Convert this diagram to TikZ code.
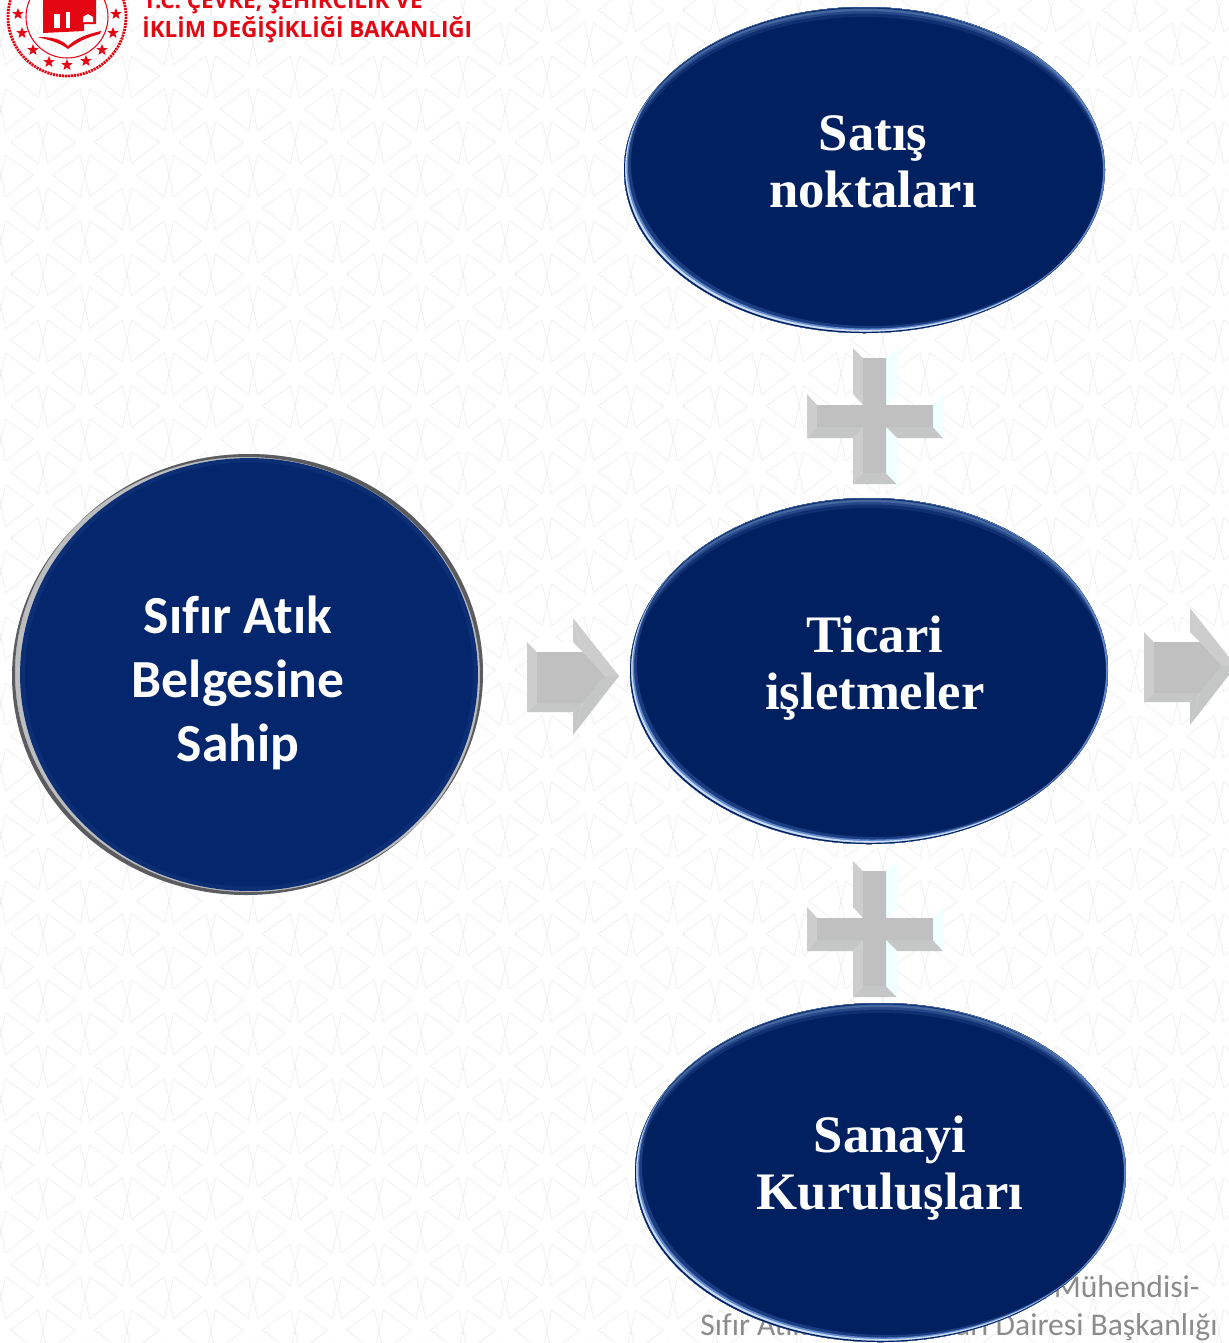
\documentclass[tikz,border=0pt]{standalone}
\usepackage{xcolor}
\usepackage{fontspec}
\setmainfont{Liberation Serif}
\setsansfont{Carlito}[Ligatures=NoCommon]
\newfontfamily\logofont{Open Sans}
\usetikzlibrary{shapes,arrows,positioning,fit,calc}

\definecolor{navy}{HTML}{002060}
\definecolor{navyb}{HTML}{04266C}
\definecolor{navyrim}{HTML}{0C2E74}
\definecolor{rima}{HTML}{0F2F70}
\definecolor{rimb}{HTML}{264888}
\definecolor{rimc}{HTML}{45679F}
\definecolor{rimd}{HTML}{1A3C80}
\definecolor{rime}{HTML}{5F86C8}
\definecolor{rimf}{HTML}{C8DCF4}
\definecolor{silver}{HTML}{BDBEC0}
\definecolor{silverdark}{HTML}{5A5C60}
\definecolor{logored}{HTML}{E30613}
\definecolor{footgray}{HTML}{8C8C8C}
\definecolor{tilegray}{HTML}{EDEDED}
\definecolor{facegray}{HTML}{C0C0C0}
\definecolor{sidegray}{HTML}{CDCDCD}
\definecolor{lowgray}{HTML}{C5C7C7}
\definecolor{sidelight}{HTML}{F0FFFF}

\tikzset{
    blob/.style={ellipse, fill=navy, inner sep=0pt},
    bigtext/.style={text=white, font=\fontsize{30}{32.5}\selectfont\bfseries, align=center},
    sanstext/.style={text=white, font=\sffamily\fontsize{30.5}{36.4}\selectfont\bfseries, align=center},
    foottext/.style={text=footgray, font=\sffamily\fontsize{18}{21}\selectfont, inner sep=0pt},
    headtext/.style={text=logored, font=\logofont\fontsize{12.8}{16}\selectfont\bfseries, anchor=base west, inner sep=0pt},
    logostar/.style={star, star points=5, star point ratio=2.4, fill=logored, inner sep=0pt, minimum size=0.24cm},
    tile/.style={draw=tilegray, line width=0.35pt},
    blockarrow/.pic={
        \fill[white] (0,0) -- (46,0) -- (46,-24) -- (92,34) -- (46,93) -- (46,70) -- (0,70) -- cycle;
        \fill[sidegray] (0,0) -- (10,10) -- (10,61) -- (0,70) -- cycle;
        \fill[lowgray] (0,70) -- (10,61) -- (56,61) -- (46,70) -- cycle;
        \fill[sidegray] (46,-24) -- (56,10) -- (78,34) -- (92,34) -- cycle;
        \fill[sidegray] (46,-24) -- (46,0) -- (56,10) -- cycle;
        \fill[lowgray] (78,34) -- (92,34) -- (46,93) -- (56,61) -- cycle;
        \fill[lowgray] (46,70) -- (46,93) -- (56,61) -- cycle;
        \fill[facegray] (10,10) -- (56,10) -- (78,34) -- (56,61) -- (10,61) -- cycle;
    },
    blockplus/.pic={
        \fill[sidegray] (-22,-68) -- (-12,-58) -- (-12,-11) -- (-22,-22) -- cycle;
        \fill[sidegray] (-68,-22) -- (-58,-11) -- (-58,11) -- (-68,22) -- cycle;
        \fill[sidegray] (-22,22) -- (-12,11) -- (-12,57) -- (-22,68) -- cycle;
        \fill[lowgray] (-68,22) -- (-58,11) -- (-12,11) -- (-22,22) -- cycle;
        \fill[lowgray] (11,11) -- (58,11) -- (68,22) -- (22,22) -- cycle;
        \fill[lowgray] (-22,68) -- (-12,57) -- (11,57) -- (22,68) -- cycle;
        \fill[sidelight] (11,-58) -- (22,-68) -- (22,-22) -- (11,-11) -- cycle;
        \fill[sidelight] (58,-11) -- (68,-22) -- (68,22) -- (58,11) -- cycle;
        \fill[sidelight] (11,11) -- (22,22) -- (22,68) -- (11,57) -- cycle;
        \fill[facegray] (-12,-58) -- (11,-58) -- (11,-11) -- (58,-11) -- (58,11) -- (11,11) -- (11,57)
            -- (-12,57) -- (-12,11) -- (-58,11) -- (-58,-11) -- (-12,-11) -- cycle;
    },
}

% one crescent of the rim: colour, cx, cy, rx, ry, dx, dy
\newcommand{\rimpart}[7]{
    \fill[color=#1, even odd rule] (#2,#3) ellipse [x radius=#4, y radius=#5] (#2+#6,#3+#7) ellipse [x radius=#4, y radius=#5];
}
% rim of an oval: cx, cy, rx, ry
\newcommand{\bevelrim}[4]{
    \begin{scope}
        \clip (#1,#2) ellipse [x radius=#3, y radius=#4];
        \rimpart{rima}{#1}{#2}{#3}{#4}{0}{10}
        \rimpart{rimb}{#1}{#2}{#3}{#4}{0}{6.5}
        \rimpart{rimc}{#1}{#2}{#3}{#4}{0}{4}
        \rimpart{rima}{#1}{#2}{#3}{#4}{0}{1.5}
        \rimpart{rimd}{#1}{#2}{#3}{#4}{7}{-7}
        \rimpart{rime}{#1}{#2}{#3}{#4}{4}{-4.5}
        \rimpart{rimf}{#1}{#2}{#3}{#4}{2.5}{-3}
        \rimpart{rime}{#1}{#2}{#3}{#4}{-2}{0}
        \rimpart{navy}{#1}{#2}{#3}{#4}{1}{-1.2}
    \end{scope}
}

\begin{document}
\begin{tikzpicture}[x=0.02cm, y=-0.02cm]
    \clip (0,0) rectangle (1229,1343);
    \fill[white] (0,0) rectangle (1229,1343);

    % background tiles
    \foreach \row in {-1,...,41}{
        \pgfmathsetmacro{\shift}{mod(\row+10,2)*42}
        \foreach \col in {-1,...,15}{
            \begin{scope}[shift={(\col*84+\shift+43,\row*33+10)}]
                \draw[tile] (-32.3,0) -- (-4.7,-20) -- (0,0) -- (-4.7,21.7) -- cycle;
                \draw[tile] (32.3,0) -- (4.7,-20) -- (0,0) -- (4.7,21.7) -- cycle;
            \end{scope}
        }
    }

    % logo
    \draw[logored, line width=1.6pt, dash pattern=on 1.2pt off 0.5pt] (67,17) circle [radius=59];
    \draw[logored, line width=0.6pt] (67,17) circle [radius=41];
    \foreach \i/\sx/\sy in {a/18/14,b/22/33,c/33/50,d/49/62,e/67/65,f/86/61,g/102/50,h/113/33,j/116/14}{
        \node (star\i) [logostar] at (\sx,\sy) {};
    }
    \fill[logored] (43,0) -- (96,0) -- (96,24) -- (84,24) -- (84,31) -- (43,33) -- cycle;
    \fill[white] (54,14) rectangle (60,28);
    \fill[white] (66,12) rectangle (70,28);
    \fill[white] (83,17) -- (88,14) -- (93,17) -- (93,22) -- (83,22) -- cycle;
    \fill[logored] (37,37) .. controls (50,37) and (60,38) .. (68,46) .. controls (76,38) and (88,34) .. (101,31) -- (100,34) .. controls (85,38) and (78,42) .. (68,49) .. controls (60,43) and (50,40) .. (37,37) -- cycle;
    \node (head1) [headtext] at (143,8) {T.C. ÇEVRE, ŞEHİRCİLİK VE};
    \node (head2) [headtext] at (142,37) {İKLİM DEĞİŞİKLİĞİ BAKANLIĞI};

    % footer
    \node (foot1) [foottext, anchor=base east] at (1200,1297) {Mühendisi-};
    \node (foot2) [foottext, anchor=base west] at (700,1335) {Sıfır Atık};
    \node (foot3) [foottext, anchor=base east] at (1218,1335) {arı Dairesi Başkanlığı};

    % left circle
    \fill[silver] (249,673) ellipse [x radius=234, y radius=219];
    \fill[silverdark, even odd rule] (249,673) ellipse [x radius=234, y radius=219] (246,676) ellipse [x radius=234, y radius=219];
    \node (sifir) [blob, fill=navyrim, minimum width=9.16cm, minimum height=8.66cm] at (249,674.5) {};
    \fill[navyb] (249,674.5) ellipse [x radius=224, y radius=212];

    % ovals
    \node (satis) [blob, minimum width=9.62cm, minimum height=6.52cm] at (864.5,170) {};
    \bevelrim{864.5}{170}{240.5}{163}
    \node (ticari) [blob, minimum width=9.56cm, minimum height=6.92cm] at (869,671) {};
    \bevelrim{869}{671}{239}{173}
    \node (sanayi) [blob, minimum width=9.82cm, minimum height=6.78cm] at (880.5,1172.5) {};
    \bevelrim{880.5}{1172.5}{245.5}{169.5}

    % arrows and plus signs
    \pic at (527,642) {blockarrow};
    \pic at (1144,632) {blockarrow};
    \pic at (875,416) {blockplus};
    \pic at (875,929) {blockplus};

    % labels
    \node (satistext) [bigtext] at (873,162) {Satış\\noktaları};
    \node (ticaritext) [bigtext] at (875,668) {Ticari\\işletmeler};
    \node (sanayitext) [bigtext] at (890,1168) {Sanayi\\Kuruluşları};
    \node (sifirtext) [sanstext] at (238,683) {Sıfır Atık\\Belgesine\\Sahip};
\end{tikzpicture}
\end{document}
